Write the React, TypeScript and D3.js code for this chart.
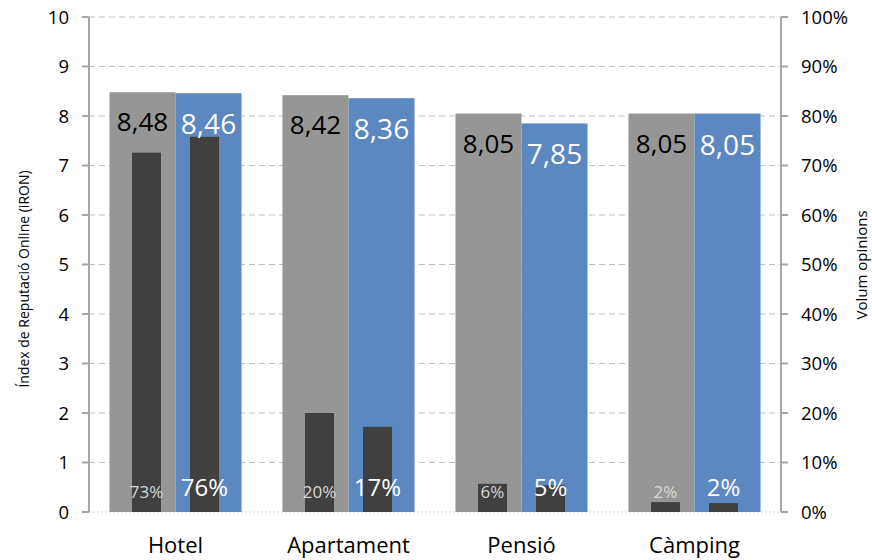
import React from "react";
import * as d3 from "d3";

const categories = ["Hotel", "Apartament", "Pensió", "Càmping"];
const iron2019 = [8.48, 8.42, 8.05, 8.05];
const iron2020 = [8.46, 8.36, 7.85, 8.05];
const volum2019 = [72.6, 20.0, 5.7, 2.0];
const volum2020 = [75.8, 17.2, 5.4, 1.8];
const volumLabels2019 = ["73%", "20%", "6%", "2%"];
const volumLabels2020 = ["76%", "17%", "5%", "2%"];
const leftTicks = [0, 1, 2, 3, 4, 5, 6, 7, 8, 9, 10];
const rightTicks = [0, 10, 20, 30, 40, 50, 60, 70, 80, 90, 100];

const W = 872;
const H = 560;
const M = { left: 89, right: 781, top: 17, bottom: 512 };
const FONT = "'Open Sans', 'DejaVu Sans', sans-serif";

export default function App() {
  const x0 = d3.scaleBand<string>().domain(categories).range([M.left, M.right]).padding(0);
  const xMain = d3.scaleBand<string>().domain(["a", "b"]).range([0, x0.bandwidth()]).paddingInner(0).paddingOuter(0.31);
  const xVol = d3.scaleBand<string>().domain(["a", "b"]).range([0, x0.bandwidth()]).paddingInner(0.5).paddingOuter(0.741);
  const y = d3.scaleLinear().domain([0, 10]).range([M.bottom, M.top]);
  const y2 = d3.scaleLinear().domain([0, 100]).range([M.bottom, M.top]);

  const gray = "#969696";
  const blue = "#5B88C0";
  const dark = "#404040";
  const axisCol = "#A6A6A6";

  return (
    <svg width={W} height={H} style={{ position: "absolute", left: 0, top: 0, background: "#fff" }} fontFamily={FONT}>
      {/* gridlines */}
      {leftTicks.map((t) =>
        t === 0 ? null : (
          <line key={"g" + t} x1={M.left} x2={M.right} y1={y(t)} y2={y(t)} stroke="#BFBFBF" strokeWidth={1.2} strokeDasharray="6,4" />
        )
      )}
      <line x1={M.left} x2={M.right} y1={y(0)} y2={y(0)} stroke="#D0D0D0" strokeWidth={1} strokeDasharray="2,2" />

      {/* main bars */}
      {categories.map((c, i) => {
        const bx = x0(c)!;
        const w = xMain.bandwidth();
        return (
          <g key={"m" + c}>
            <rect x={bx + xMain("a")!} y={y(iron2019[i])} width={w} height={y(0) - y(iron2019[i])} fill={gray} />
            <rect x={bx + xMain("b")!} y={y(iron2020[i])} width={w} height={y(0) - y(iron2020[i])} fill={blue} />
          </g>
        );
      })}

      {/* volume bars */}
      {categories.map((c, i) => {
        const bx = x0(c)!;
        const w = xVol.bandwidth();
        return (
          <g key={"v" + c}>
            <rect x={bx + xVol("a")!} y={y2(volum2019[i])} width={w} height={y2(0) - y2(volum2019[i])} fill={dark} />
            <rect x={bx + xVol("b")!} y={y2(volum2020[i])} width={w} height={y2(0) - y2(volum2020[i])} fill={dark} />
          </g>
        );
      })}

      {/* value labels */}
      {categories.map((c, i) => {
        const bx = x0(c)!;
        const w = xMain.bandwidth();
        return (
          <g key={"l" + c}>
            <text x={bx + xMain("a")! + w / 2} y={y(iron2019[i]) + 39} textAnchor="middle" fontSize={26} fill="#000">
              {iron2019[i].toFixed(2).replace(".", ",")}
            </text>
            <text x={bx + xMain("b")! + w / 2} y={y(iron2020[i]) + 41} textAnchor="middle" fontSize={28} fill="#fff">
              {iron2020[i].toFixed(2).replace(".", ",")}
            </text>
          </g>
        );
      })}

      {/* volume labels */}
      {categories.map((c, i) => {
        const bx = x0(c)!;
        const w = xVol.bandwidth();
        return (
          <g key={"p" + c}>
            <text x={bx + xVol("a")! + w / 2} y={y2(0) - 14} textAnchor="middle" fontSize={17} fill="#D9D9D9">
              {volumLabels2019[i]}
            </text>
            <text x={bx + xVol("b")! + w / 2} y={y2(0) - 16} textAnchor="middle" fontSize={24} fill="#fff">
              {volumLabels2020[i]}
            </text>
          </g>
        );
      })}

      {/* left axis */}
      <line x1={M.left} x2={M.left} y1={M.top} y2={M.bottom} stroke={axisCol} strokeWidth={2} />
      {leftTicks.map((t) => (
        <g key={"lt" + t}>
          <line x1={M.left - 7} x2={M.left} y1={y(t)} y2={y(t)} stroke={axisCol} strokeWidth={2} />
          <text x={M.left - 20} y={y(t) + 6.5} textAnchor="end" fontSize={18.5} fill="#000">
            {t}
          </text>
        </g>
      ))}

      {/* right axis */}
      <line x1={M.right} x2={M.right} y1={M.top} y2={M.bottom} stroke={axisCol} strokeWidth={2} />
      {rightTicks.map((t) => (
        <g key={"rt" + t}>
          <line x1={M.right} x2={M.right + 7} y1={y2(t)} y2={y2(t)} stroke={axisCol} strokeWidth={2} />
          <text x={M.right + 20} y={y2(t) + 6.5} textAnchor="start" fontSize={18.5} fill="#000">
            {t + "%"}
          </text>
        </g>
      ))}

      {/* category labels */}
      {categories.map((c) => (
        <text key={"c" + c} x={x0(c)! + x0.bandwidth() / 2} y={553} textAnchor="middle" fontSize={22} fill="#000">
          {c}
        </text>
      ))}

      {/* axis titles */}
      <text transform={`translate(29,279) rotate(-90)`} textAnchor="middle" fontSize={14} fill="#000">
        Índex de Reputació Online (iRON)
      </text>
      <text transform={`translate(867,265) rotate(-90)`} textAnchor="middle" fontSize={15} fill="#000">
        Volum opinions
      </text>
    </svg>
  );
}
